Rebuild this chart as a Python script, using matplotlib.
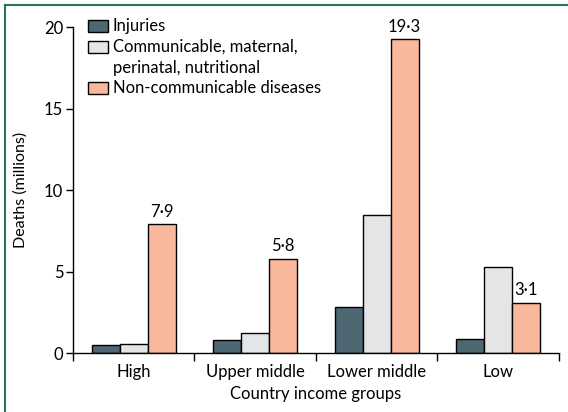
import numpy as np
import matplotlib.pyplot as plt
from matplotlib.patches import Rectangle
from matplotlib.lines import Line2D

plt.rcParams['font.family'] = ['Lato', 'DejaVu Sans']

groups = ['High', 'Upper middle', 'Lower middle', 'Low']
series = ['Injuries', 'Communicable, maternal,\nperinatal, nutritional', 'Non-communicable diseases']
injuries = [0.5, 0.8, 2.85, 0.85]
communicable = [0.55, 1.2, 8.5, 5.3]
noncomm = [7.9, 5.8, 19.3, 3.1]
colors = ['#4d6773', '#e4e5e6', '#f9b89b']

fig = plt.figure(figsize=(5.68, 4.12), dpi=100)
ax = fig.add_axes([0.1285, 0.1432, 0.8555, 0.7908])

x = np.arange(len(groups)) + 0.5
w = 0.23
for i, vals in enumerate([injuries, communicable, noncomm]):
    ax.bar(x + (i - 1) * w, vals, w, color=colors[i], edgecolor='black', linewidth=1, zorder=2)

for xi, v in zip(x, noncomm):
    ax.text(xi + w, v + 0.25, f'{v:.1f}'.replace('.', '·'), ha='center', va='bottom', fontsize=12)

ax.set_xlim(0, 4)
ax.set_ylim(0, 20)
ax.set_yticks([0, 5, 10, 15, 20])
ax.set_xticks([0, 1, 2, 3, 4])
ax.set_xticklabels([])
ax.set_xticks(x, minor=True)
ax.set_xticklabels(groups, minor=True)
ax.tick_params(axis='x', which='minor', length=0, pad=8, labelsize=12)
ax.tick_params(axis='x', which='major', length=6, width=1)
ax.tick_params(axis='y', length=5, width=1, labelsize=12, pad=2)
for s in ['top', 'right']:
    ax.spines[s].set_visible(False)
ax.spines['left'].set_linewidth(1)
ax.spines['bottom'].set_linewidth(1)
ax.set_ylabel('Deaths (millions)', fontsize=11.5, labelpad=12)
ax.set_xlabel('Country income groups', fontsize=12, labelpad=4)

# legend drawn by hand so the swatch sits on the first line of a two-line entry
W, H = 568, 412
leg_y = [26, 47, 88]
step = 20.5
for c, label, yy in zip(colors, series, leg_y):
    fig.patches.append(Rectangle((88 / W, 1 - (yy + 6) / H), 20 / W, 12 / H,
                                 transform=fig.transFigure, facecolor=c,
                                 edgecolor='black', linewidth=1))
    for k, line in enumerate(label.split('\n')):
        fig.text(113 / W, 1 - (yy + k * step) / H, line, ha='left', va='center',
                 fontsize=12)

# green frame lines at top and left
fig.add_artist(Line2D([5 / W, 5 / W], [0, 1 - 5 / H], transform=fig.transFigure, color='#23784f', linewidth=1.5))
fig.add_artist(Line2D([5 / W, 1], [1 - 5 / H, 1 - 5 / H], transform=fig.transFigure, color='#23784f', linewidth=1.5))

fig.savefig('out.png', dpi=100)
